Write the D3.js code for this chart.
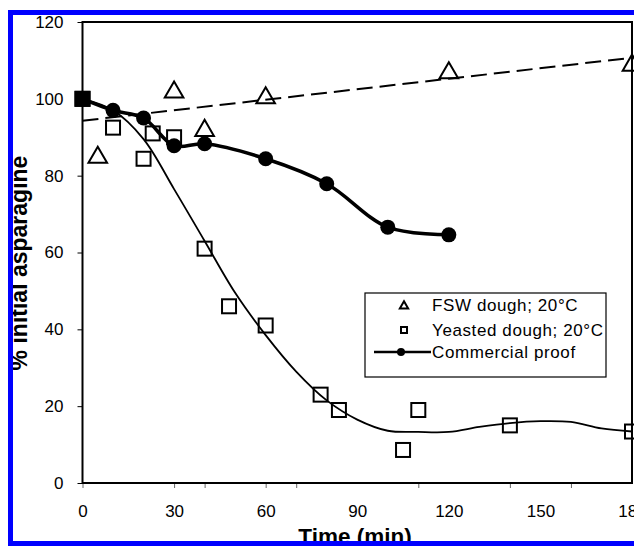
<!DOCTYPE html>
<html>
<head>
<meta charset="utf-8">
<script src="https://cdn.jsdelivr.net/npm/d3@7"></script>
<style>
  body { margin: 0; background: #fff; }
  svg { display: block; font-family: "Liberation Sans", Arial, sans-serif; }
</style>
</head>
<body>
<svg id="chart"></svg>
<script>
// FSW dough; 20 C (open triangles) and its linear trend (dashed)
const fswTime = [5, 30, 40, 60, 120, 180];
const fswValue = [85, 102, 92, 100.5, 107, 109];
const fswTrendTime = [0, 180];
const fswTrendValue = [94.3, 110.7];

// Yeasted dough; 20 C (open squares) and its fitted curve
const yeastTime = [0, 10, 20, 23, 30, 40, 48, 60, 78, 84, 105, 110, 140, 180];
const yeastValue = [100, 92.5, 84.4, 91, 90, 61, 46, 41, 23, 19, 8.6, 19, 15, 13.4];
const yeastFitTime = [0, 10, 20, 30, 40, 50, 60, 70, 80, 90, 100, 110, 120, 130, 140, 150, 160, 170, 180];
const yeastFitValue = [100, 97, 89.5, 76.5, 63, 49.5, 38.5, 29, 21.5, 16.5, 13.6, 13.3, 13.3, 14.6, 15.6, 16.1, 15.9, 14.2, 13.4];

// Commercial proof (filled circles, thick line)
const proofTime = [0, 10, 20, 30, 40, 60, 80, 100, 120];
const proofValue = [100, 97, 95, 87.8, 88.3, 84.4, 77.9, 66.6, 64.6];

// axis ticks
const xLabelTicks = [0, 30, 60, 90, 120, 150, 180];
const xMarkTicks = [0, 30, 40, 60, 70, 110, 140, 160];
const yTicks = [0, 20, 40, 60, 80, 100, 120];

const legendLabels = ["FSW dough; 20°C", "Yeasted dough; 20°C", "Commercial proof"];

const width = 634;
const height = 546;
const margin = { top: 22, right: 2, bottom: 63, left: 82.5 };

const svg = d3.select("#chart").attr("width", width).attr("height", height);
svg.append("rect").attr("width", width).attr("height", height).attr("fill", "#fff");

const zip = (a, b) => a.map((t, i) => ({ t: t, v: b[i] }));
const fsw = zip(fswTime, fswValue);
const fswTrend = zip(fswTrendTime, fswTrendValue);
const yeast = zip(yeastTime, yeastValue);
const yeastFit = zip(yeastFitTime, yeastFitValue);
const proof = zip(proofTime, proofValue);

const x = d3.scaleLinear().domain([0, 180]).range([margin.left, width - margin.right]);
const y = d3.scaleLinear().domain([0, 120]).range([height - margin.bottom, margin.top]);

// clip so that the blue frame trims the titles
svg.append("clipPath").attr("id", "inner")
  .append("rect").attr("x", 13).attr("y", 15).attr("width", width).attr("height", 526);
const root = svg.append("g").attr("clip-path", "url(#inner)");

// y axis
const yAxis = root.append("g")
  .attr("transform", `translate(${margin.left}, 0)`)
  .call(d3.axisLeft(y).tickValues(yTicks).tickSize(5).tickPadding(14).tickSizeOuter(0));
yAxis.select(".domain").remove();
yAxis.selectAll("text").attr("font-size", 17).attr("font-family", "Liberation Sans, Arial, sans-serif").attr("fill", "#000");

// x axis: tick marks
const xMarks = root.append("g")
  .attr("transform", `translate(0, ${y(0)})`)
  .call(d3.axisBottom(x).tickValues(xMarkTicks).tickSize(5).tickFormat(""));
xMarks.select(".domain").remove();
xMarks.selectAll("line").attr("stroke", "#666");

// x axis: labels
const xLabels = root.append("g")
  .attr("transform", `translate(0, ${y(0)})`)
  .call(d3.axisBottom(x).tickValues(xLabelTicks).tickSize(0).tickPadding(22));
xLabels.select(".domain").remove();
xLabels.selectAll("text").attr("font-size", 17).attr("font-family", "Liberation Sans, Arial, sans-serif").attr("fill", "#000");

// plot frame
root.append("rect")
  .attr("x", x(0)).attr("y", y(120))
  .attr("width", x(180) - x(0)).attr("height", y(0) - y(120))
  .attr("fill", "none").attr("stroke", "#000").attr("stroke-width", 2);

// axis titles
root.append("text")
  .attr("x", 355).attr("y", 544)
  .attr("text-anchor", "middle")
  .attr("font-size", 22.5).attr("font-weight", "bold")
  .text("Time (min)");
root.append("text")
  .attr("transform", `translate(27, 263) rotate(-90)`)
  .attr("text-anchor", "middle")
  .attr("font-size", 23).attr("font-weight", "bold")
  .text("% initial asparagine");

const line = d3.line().x(d => x(d.t)).y(d => y(d.v));
const smooth = d3.line().x(d => x(d.t)).y(d => y(d.v)).curve(d3.curveCatmullRom.alpha(0.5));

// FSW trend + triangles
root.append("path").datum(fswTrend)
  .attr("d", line).attr("fill", "none")
  .attr("stroke", "#000").attr("stroke-width", 2).attr("stroke-dasharray", "16,7");
const tri = d3.symbol().type(d3.symbolTriangle).size(150);
root.selectAll("path.fsw").data(fsw).join("path")
  .attr("class", "fsw")
  .attr("d", tri)
  .attr("transform", d => `translate(${x(d.t)}, ${y(d.v) + 1})`)
  .attr("fill", "none").attr("stroke", "#000").attr("stroke-width", 2);

// yeasted fit + squares
root.append("path").datum(yeastFit)
  .attr("d", smooth).attr("fill", "none")
  .attr("stroke", "#000").attr("stroke-width", 1.8);
root.selectAll("rect.yeast").data(yeast).join("rect")
  .attr("class", "yeast")
  .attr("x", d => x(d.t) - 7).attr("y", d => y(d.v) - 7)
  .attr("width", 14).attr("height", 14)
  .attr("fill", "none").attr("stroke", "#000").attr("stroke-width", 2);

// commercial proof
root.append("path").datum(proof)
  .attr("d", smooth).attr("fill", "none")
  .attr("stroke", "#000").attr("stroke-width", 3.5);
root.selectAll("circle.proof").data(proof).join("circle")
  .attr("class", "proof")
  .attr("cx", d => x(d.t)).attr("cy", d => y(d.v))
  .attr("r", 7.5).attr("fill", "#000");

// the starting point is drawn as a solid square over the others
root.selectAll("rect.start").data(yeast.filter(d => d.t === 0)).join("rect")
  .attr("class", "start")
  .attr("x", d => x(d.t) - 8).attr("y", d => y(d.v) - 8)
  .attr("width", 16).attr("height", 16)
  .attr("fill", "#000");

// legend
const legend = root.append("g").attr("transform", "translate(365, 293)");
legend.append("rect")
  .attr("width", 241).attr("height", 84)
  .attr("fill", "#fff").attr("stroke", "#000").attr("stroke-width", 1.2);
const rowY = [12, 37, 59];
legend.append("path")
  .attr("d", d3.symbol().type(d3.symbolTriangle).size(30))
  .attr("transform", `translate(39, ${rowY[0] + 1})`)
  .attr("fill", "none").attr("stroke", "#000").attr("stroke-width", 2);
legend.append("rect")
  .attr("x", 36).attr("y", rowY[1] - 3).attr("width", 6).attr("height", 6)
  .attr("fill", "none").attr("stroke", "#000").attr("stroke-width", 2);
legend.append("line")
  .attr("x1", 9).attr("x2", 66).attr("y1", rowY[2]).attr("y2", rowY[2])
  .attr("stroke", "#000").attr("stroke-width", 2.5);
legend.append("circle").attr("cx", 36).attr("cy", rowY[2]).attr("r", 4).attr("fill", "#000");
legend.selectAll("text").data(legendLabels).join("text")
  .attr("x", 67).attr("y", (d, i) => rowY[i])
  .attr("dy", "0.35em")
  .attr("font-size", 17).attr("letter-spacing", 0.6)
  .text(d => d);

// blue outer frame
svg.append("rect")
  .attr("x", 10.5).attr("y", 12.5)
  .attr("width", width + 20).attr("height", 531)
  .attr("fill", "none").attr("stroke", "#0000ff").attr("stroke-width", 5);
</script>
</body>
</html>
